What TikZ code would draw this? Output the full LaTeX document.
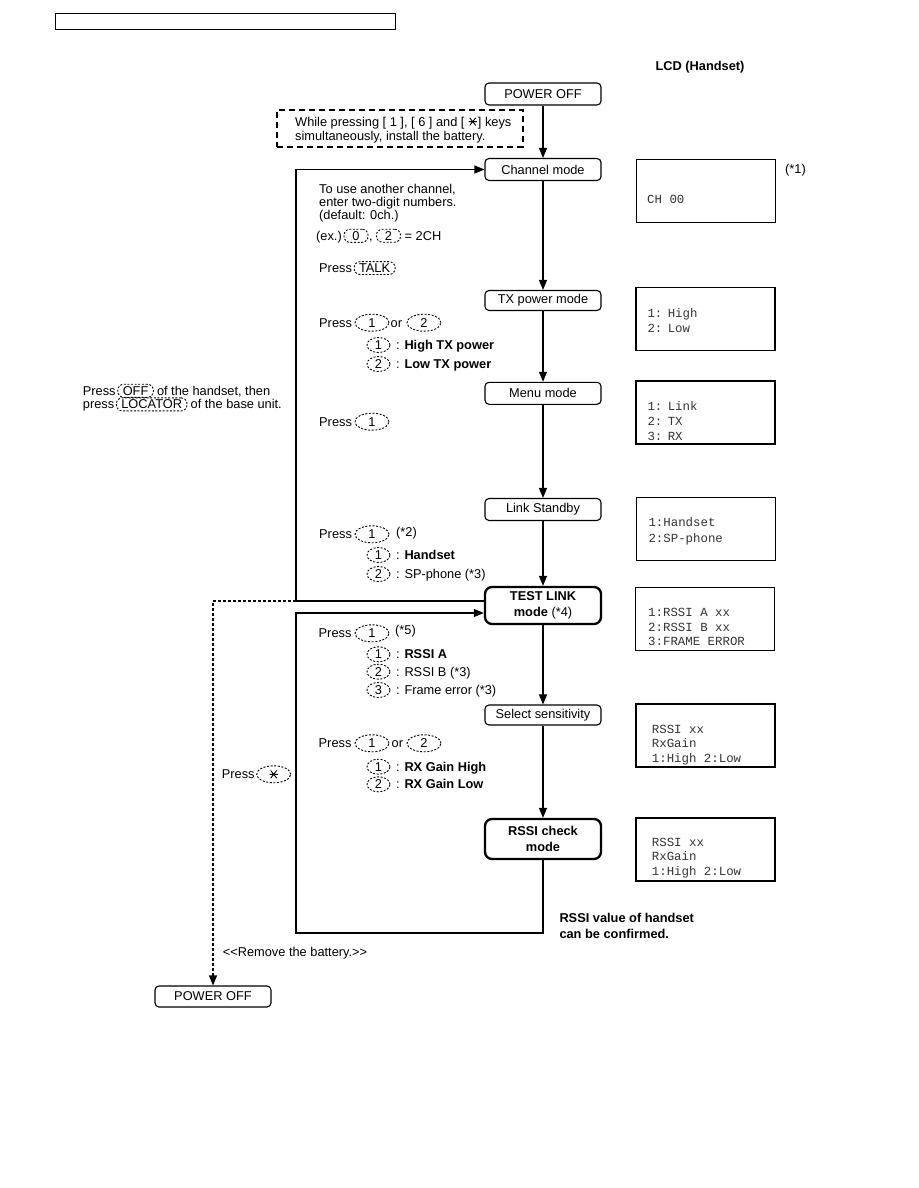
\documentclass[tikz,border=0pt]{standalone}
\usepackage{fontspec}
\setmainfont{Liberation Sans}
\newfontfamily\lcdfont{Liberation Mono}
\usetikzlibrary{arrows.meta,shapes.geometric}
\newcommand\mfs{\fontsize{12.8}{13.3}\selectfont}
\newcommand\lfs{\lcdfont\fontsize{12.4}{15}\selectfont}
\newcommand\drawstar[1]{\draw[line width=0.9pt, shift={(#1)}] (-4.2,0) -- (4.2,0) (-3,-3.8) -- (3,3.8) (-3,3.8) -- (3,-3.8);}
\begin{document}
\begin{tikzpicture}[x=1pt,y=-1pt,
 every node/.style={font=\mfs},
 box/.style={draw, rounded corners=4pt, line width=1.1pt, minimum width=116pt, minimum height=22pt, inner sep=1pt},
 tbox/.style={draw, rounded corners=7pt, line width=2.3pt, minimum width=116pt, minimum height=37pt, inner sep=1pt, align=center, font=\fontsize{12.8}{16}\selectfont\bfseries},
 lcd/.style={draw, line width=1.1pt, minimum width=139pt, minimum height=63pt, inner sep=0pt},
 lcdtxt/.style={anchor=base west, inner sep=0pt, font=\lfs, text=black!80},
 txt/.style={anchor=base west, inner sep=0pt},
 koval/.style={draw, ellipse, dash pattern=on 2pt off 1.6pt, line width=0.9pt, minimum width=34pt, minimum height=17pt, inner sep=0pt},
 soval/.style={koval, minimum width=23pt, minimum height=15pt},
 keyr/.style={draw, dash pattern=on 2pt off 1.6pt, line width=0.9pt, rounded corners=6pt, inner xsep=5pt, inner ysep=2pt, anchor=base west},
 skeyr/.style={keyr, inner xsep=8.5pt},
 arr/.style={-{Triangle[length=10pt,width=8pt]}, line width=1.2pt},
 dsh/.style={arr, dash pattern=on 3pt off 2pt},
 dbox/.style={draw, line width=1.6pt, dash pattern=on 6pt off 4pt, inner sep=0pt},
]
\useasboundingbox (0,0) rectangle (918,1188);
\draw[line width=1pt] (55,13.5) rectangle (395.5,29.5);

\node[font=\mfs\bfseries] (lcdtitle) at (700,67.5) {LCD (Handset)};

% main flow boxes
\node[box] (pwr1) at (543,94) {POWER OFF};
\node[box] (ch) at (543,169.5) {Channel mode};
\node[box, minimum height=20pt] (tx) at (543,300.5) {TX power mode};
\node[box] (menu) at (543,393.3) {Menu mode};
\node[box] (link) at (543,509.5) {Link Standby};
\node[tbox] (test) at (543,605.5) {TEST LINK\\mode \textmd{(*4)}};
\node[box, minimum height=20pt] (sel) at (543,715) {Select sensitivity};
\node[tbox, minimum height=40pt] (rssi) at (543,839) {RSSI check\\mode};
\node[box, minimum height=21pt] (pwr2) at (213,996.5) {POWER OFF};

% main arrows
\draw[arr] (pwr1) -- (ch);
\draw[arr] (ch) -- (tx);
\draw[arr] (tx) -- (menu);
\draw[arr] (menu) -- (link);
\draw[arr] (link) -- (test);
\draw[arr] (test) -- (sel);
\draw[arr] (sel) -- (rssi);

% loops
\coordinate (j1) at (296,601);
\coordinate (j2) at (296,613);
\coordinate (j3) at (543,933);
\coordinate (j4) at (213,601);
\draw[arr] (test.west |- j1) -- (j1) -- (j1 |- ch.west) -- (ch.west);
\draw[arr] (rssi.south) -- (j3) -- (j3 -| j2) -- (j2) -- (test.west |- j2);
\draw[dsh] (j1) -- (j4) -- (pwr2.north);

% instruction box
\node[dbox, minimum width=245.7pt, minimum height=36.7pt] (instr) at (400,128.4) {};
\node[txt] (i1a) at (295,126.2) {While pressing [ 1 ], [ 6 ] and [};
\coordinate (st1) at ([xshift=8pt, yshift=4.6pt]i1a.base east);
\drawstar{st1}
\node[txt] (i1b) at ([xshift=5pt, yshift=-4.6pt]st1) {] keys};
\node[txt] (i2) at (295,140.8) {simultaneously, install the battery.};

% channel mode texts
\node[txt] (c1) at (319,193.5) {To use another channel,};
\node[txt] (c2) at (319,206.2) {enter two-digit numbers.};
\node[txt] (c3) at (319,219.5) {(default: 0ch.)};
\node[txt] (c4) at (316,240.2) {(ex.)};
\node[skeyr] (k0) at ([xshift=1.5pt]c4.base east) {0};
\node[txt] (c5) at ([xshift=0.5pt]k0.base east) {,};
\node[skeyr] (k2) at ([xshift=3pt]c5.base east) {2};
\node[txt] (c6) at ([xshift=3.5pt]k2.base east) {= 2CH};
\node[txt] (c7) at (319,272.5) {Press};
\node[keyr] (ktalk) at ([xshift=1.5pt]c7.base east) {TALK};

% tx power texts
\node[txt] (t1) at (319,327.2) {Press};
\node[koval] (t1k) at (372,322.7) {1};
\node[txt] (t1o) at (390.5,327.2) {or};
\node[koval] (t2k) at (424,322.7) {2};
\node[soval] (t3k) at (378.5,345) {1};
\node[txt] (t3) at (396,349.5) {: \textbf{High TX power}};
\node[soval] (t4k) at (378.5,364) {2};
\node[txt] (t4) at (396,368.5) {: \textbf{Low TX power}};

% menu texts
\node[txt] (m1) at (319,426.2) {Press};
\node[koval] (m1k) at (372,421.7) {1};

% link texts
\node[txt] (l1) at (319,538.8) {Press};
\node[koval] (l1k) at (372,534.3) {1};
\node[txt] (l1n) at (396,536.2) {(*2)};
\node[soval] (l2k) at (378.5,555) {1};
\node[txt] (l2) at (396,559.5) {: \textbf{Handset}};
\node[soval] (l3k) at (378.5,574) {2};
\node[txt] (l3) at (396,578.5) {: SP-phone (*3)};

% test link texts
\node[txt] (r1) at (318.5,637.8) {Press};
\node[koval] (r1k) at (372,633.3) {1};
\node[txt] (r1n) at (395,634.5) {(*5)};
\node[soval] (r2k) at (378.5,654.3) {1};
\node[txt] (r2) at (396,658.8) {: \textbf{RSSI A}};
\node[soval] (r3k) at (378.5,671.7) {2};
\node[txt] (r3) at (396,676.2) {: RSSI B (*3)};
\node[soval] (r4k) at (378.5,690) {3};
\node[txt] (r4) at (396,694.5) {: Frame error (*3)};

% select sensitivity texts
\node[txt] (s1) at (318.5,747.8) {Press};
\node[koval] (s1k) at (372,743.3) {1};
\node[txt] (s1o) at (391.5,747.8) {or};
\node[koval] (s2k) at (424,743.3) {2};
\node[soval] (s3k) at (378.5,766.7) {1};
\node[txt] (s3) at (396,771.2) {: \textbf{RX Gain High}};
\node[soval] (s4k) at (378.5,784.3) {2};
\node[txt] (s4) at (396,788.8) {: \textbf{RX Gain Low}};

% left texts
\node[txt] (a1) at (82.7,395.2) {Press};
\node[keyr] (koff) at ([xshift=1.5pt]a1.base east) {OFF};
\node[txt] (a2) at ([xshift=3pt]koff.base east) {of the handset, then};
\node[txt] (b1) at (82.7,408.8) {press};
\node[keyr] (kloc) at ([xshift=1.5pt]b1.base east) {LOCATOR};
\node[txt] (b2) at ([xshift=3pt]kloc.base east) {of the base unit.};
\node[txt] (p1) at (221.7,778.8) {Press};
\node[koval] (pk) at (273.7,774.3) {};
\drawstar{pk.center}
\node[txt] (rem) at (222.7,956.5) {<{}<Remove the battery.>{}>};
\node[txt, font=\mfs\bfseries] (v1) at (559.3,922.8) {RSSI value of handset};
\node[txt, font=\mfs\bfseries] (v2) at (559.3,938.5) {can be confirmed.};
\node[txt] (n1) at (785,173.5) {(*1)};

% LCD displays
\node[lcd] (lcd1) at (706,190.8) {};
\node[lcdtxt] (lcd1a) at (647,203) {CH 00};
\node[lcd] (lcd2) at (705.5,318.7) {};
\node[lcdtxt] (lcd2a) at (647.3,317) {1:\hspace{-4.5pt} High};
\node[lcdtxt] (lcd2b) at (647.3,332.5) {2:\hspace{-4.5pt} Low};
\node[lcd] (lcd3) at (705.5,412.5) {};
\node[lcdtxt] (lcd3a) at (647.3,410.2) {1:\hspace{-4.5pt} Link};
\node[lcdtxt] (lcd3b) at (647.3,425.2) {2:\hspace{-4.5pt} TX};
\node[lcdtxt] (lcd3c) at (647.3,440.2) {3:\hspace{-4.5pt} RX};
\node[lcd] (lcd4) at (705.8,528.7) {};
\node[lcdtxt] (lcd4a) at (648.3,526.8) {1:Handset};
\node[lcdtxt] (lcd4b) at (648.3,542.5) {2:SP-phone};
\node[lcd] (lcd5) at (705,618.7) {};
\node[lcdtxt] (lcd5a) at (648,616.2) {1:RSSI A xx};
\node[lcdtxt] (lcd5b) at (648,631.5) {2:RSSI B xx};
\node[lcdtxt] (lcd5c) at (648,645.2) {3:FRAME ERROR};
\node[lcd] (lcd6) at (705.5,735.5) {};
\node[lcdtxt] (lcd6a) at (651.7,733.5) {RSSI xx};
\node[lcdtxt] (lcd6b) at (651.7,747.5) {RxGain};
\node[lcdtxt] (lcd6c) at (651.7,762.8) {1:High 2:Low};
\node[lcd] (lcd7) at (705.5,849.5) {};
\node[lcdtxt] (lcd7a) at (651.7,846.8) {RSSI xx};
\node[lcdtxt] (lcd7b) at (651.7,860.8) {RxGain};
\node[lcdtxt] (lcd7c) at (651.7,875.2) {1:High 2:Low};
\end{tikzpicture}
\end{document}
